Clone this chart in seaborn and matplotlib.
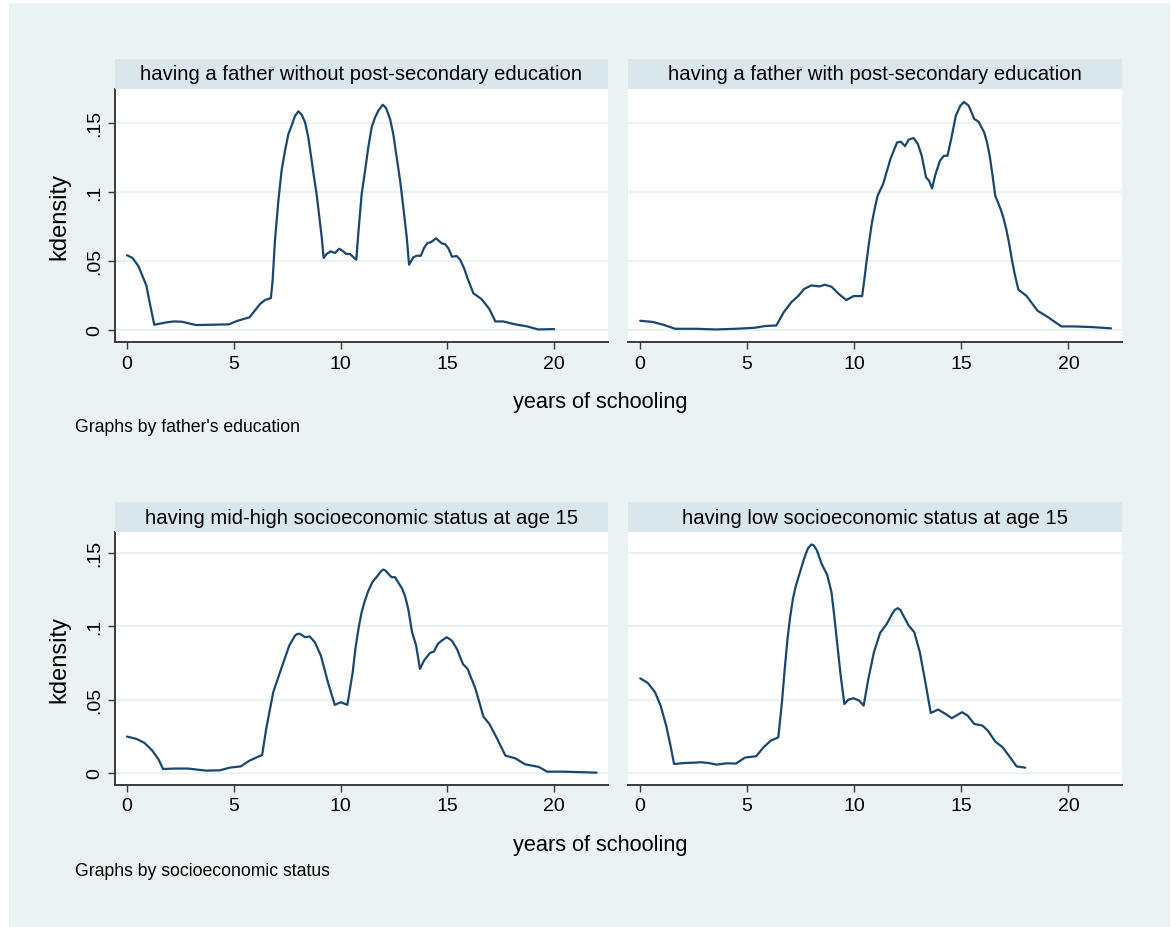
import matplotlib
matplotlib.use("Agg")
import matplotlib.pyplot as plt
from matplotlib.patches import Rectangle
import numpy as np
import pandas as pd
import seaborn as sns

# ---- kernel density estimates of years of schooling, by group ----
father_nopost_x = [0.0, 0.26, 0.54, 0.91, 1.1, 1.28, 1.84, 2.2, 2.58, 3.23, 3.88, 4.77, 5.18, 5.74,
                   6.23, 6.46, 6.74, 6.82, 6.93, 7.09, 7.24, 7.4, 7.56, 7.71, 7.87, 8.03, 8.18,
                   8.34, 8.49, 8.65, 8.76, 8.88, 9.01, 9.12, 9.21, 9.35, 9.54, 9.74, 9.94, 10.13,
                   10.26, 10.44, 10.74, 10.83, 10.99, 11.15, 11.3, 11.46, 11.62, 11.77, 11.98,
                   12.13, 12.32, 12.47, 12.63, 12.79, 12.94, 13.1, 13.21, 13.41, 13.57, 13.76,
                   13.91, 14.07, 14.22, 14.47, 14.74, 14.89, 15.05, 15.22, 15.44, 15.6, 15.78,
                   15.99, 16.22, 16.45, 16.6, 16.97, 17.25, 17.62, 18.18, 18.74, 19.26, 20.0]
father_nopost_y = [0.054, 0.052, 0.046, 0.032, 0.017, 0.0036, 0.0053, 0.006, 0.0058, 0.0034,
                   0.0036, 0.0039, 0.0065, 0.009, 0.0186, 0.0215, 0.023, 0.0355, 0.0645, 0.0935,
                   0.1152, 0.1297, 0.1418, 0.1478, 0.155, 0.1582, 0.1558, 0.1503, 0.1394, 0.1225,
                   0.1104, 0.0983, 0.0814, 0.067, 0.052, 0.0549, 0.0568, 0.0556, 0.0587, 0.0568,
                   0.0549, 0.0549, 0.0507, 0.0693, 0.0983, 0.1152, 0.1322, 0.1467, 0.1539, 0.1587,
                   0.163, 0.1607, 0.1527, 0.1418, 0.1249, 0.108, 0.0887, 0.067, 0.0471, 0.0525,
                   0.0536, 0.0536, 0.0592, 0.0628, 0.0633, 0.0662, 0.0626, 0.0621, 0.059, 0.0529,
                   0.0534, 0.0507, 0.0447, 0.0355, 0.0264, 0.0239, 0.0222, 0.015, 0.006, 0.006,
                   0.0039, 0.0024, 0.0002, 0.0005]

father_post_x = [0.03, 0.63, 1.15, 1.66, 2.61, 3.55, 4.49, 5.35, 5.87, 6.38, 6.72, 7.07, 7.41, 7.67,
                 8.01, 8.39, 8.64, 8.95, 9.3, 9.64, 9.98, 10.38, 10.48, 10.58, 10.7, 10.84, 10.97,
                 11.1, 11.36, 11.7, 12.01, 12.18, 12.38, 12.55, 12.78, 12.98, 13.16, 13.36, 13.5,
                 13.64, 13.79, 14.01, 14.19, 14.36, 14.53, 14.75, 14.96, 15.13, 15.35, 15.61,
                 15.81, 16.07, 16.2, 16.33, 16.46, 16.59, 16.72, 16.84, 16.97, 17.1, 17.23, 17.36,
                 17.5, 17.67, 18.04, 18.56, 19.07, 19.67, 20.27, 21.13, 21.99]
father_post_y = [0.0065, 0.0056, 0.0034, 0.0007, 0.0007, 0.0002, 0.0007, 0.0014, 0.0027, 0.0031,
                 0.0126, 0.0198, 0.0246, 0.0295, 0.0321, 0.0314, 0.0326, 0.0312, 0.0258, 0.0215,
                 0.0244, 0.0244, 0.036, 0.0488, 0.063, 0.0778, 0.088, 0.097, 0.1056, 0.1237,
                 0.1357, 0.1362, 0.133, 0.1377, 0.1389, 0.1345, 0.126, 0.1104, 0.108, 0.1024,
                 0.112, 0.1225, 0.126, 0.126, 0.138, 0.155, 0.1623, 0.165, 0.1623, 0.1527, 0.1507,
                 0.143, 0.136, 0.126, 0.112, 0.097, 0.092, 0.0874, 0.081, 0.073, 0.063, 0.0512,
                 0.04, 0.029, 0.0246, 0.0138, 0.0089, 0.0024, 0.0024, 0.0019, 0.001]

ses_midhigh_x = [0.0, 0.45, 0.82, 1.19, 1.47, 1.69, 2.21, 2.86, 3.7, 4.35, 4.81, 5.33, 5.74, 6.33,
                 6.52, 6.85, 7.22, 7.6, 7.87, 7.98, 8.1, 8.34, 8.56, 8.8, 9.08, 9.41, 9.73, 10.01,
                 10.32, 10.57, 10.7, 10.84, 10.98, 11.12, 11.3, 11.49, 11.77, 11.9, 12.0, 12.1,
                 12.24, 12.39, 12.55, 12.89, 13.03, 13.17, 13.35, 13.54, 13.72, 13.91, 14.19, 14.37,
                 14.56, 14.74, 14.97, 15.21, 15.45, 15.73, 15.95, 16.32, 16.69, 16.97, 17.34,
                 17.72, 18.18, 18.64, 19.29, 19.67, 20.41, 21.34, 21.99]
ses_midhigh_y = [0.0248, 0.0232, 0.0205, 0.0152, 0.0095, 0.0027, 0.003, 0.003, 0.0016, 0.0018,
                 0.0036, 0.0045, 0.0084, 0.0123, 0.03, 0.055, 0.0709, 0.0868, 0.0936, 0.0948,
                 0.0948, 0.0925, 0.093, 0.089, 0.08, 0.0618, 0.0464, 0.0482, 0.0464, 0.0686,
                 0.085, 0.0982, 0.109, 0.1164, 0.124, 0.13, 0.135, 0.1375, 0.1386, 0.138, 0.1357,
                 0.1334, 0.1334, 0.1255, 0.12, 0.1118, 0.0959, 0.0868, 0.0709, 0.0766, 0.0818,
                 0.0827, 0.088, 0.0902, 0.0925, 0.0902, 0.0845, 0.0743, 0.0709, 0.0573, 0.0384,
                 0.0334, 0.0232, 0.0118, 0.01, 0.0059, 0.0041, 0.0009, 0.0009, 0.0005, 0.0002]

ses_low_x = [0.03, 0.38, 0.72, 0.98, 1.24, 1.41, 1.61, 2.09, 2.52, 2.86, 3.21, 3.6, 4.07, 4.49,
             4.92, 5.44, 5.78, 6.12, 6.47, 6.64, 6.77, 6.9, 7.02, 7.15, 7.28, 7.41, 7.67, 7.85,
             8.01, 8.13, 8.27, 8.49, 8.75, 8.95, 9.08, 9.21, 9.38, 9.55, 9.75, 9.98, 10.24,
             10.45, 10.67, 10.93, 11.22, 11.53, 11.78, 11.9, 12.04, 12.17, 12.3, 12.55, 12.81,
             13.07, 13.33, 13.58, 13.93, 14.27, 14.56, 15.04, 15.3, 15.61, 15.99, 16.24, 16.59,
             16.93, 17.28, 17.58, 17.99]
ses_low_y = [0.0645, 0.0614, 0.055, 0.0459, 0.0323, 0.0209, 0.0061, 0.0068, 0.007, 0.0073, 0.0068,
             0.0057, 0.0066, 0.0064, 0.0105, 0.0114, 0.0175, 0.022, 0.0243, 0.0482, 0.071,
             0.0914, 0.106, 0.1186, 0.127, 0.1334, 0.1459, 0.153, 0.1557, 0.155, 0.1516, 0.1425,
             0.135, 0.1232, 0.107, 0.0891, 0.0664, 0.047, 0.05, 0.0509, 0.0493, 0.0459, 0.0641,
             0.0823, 0.0955, 0.1016, 0.1084, 0.111, 0.1123, 0.111, 0.1073, 0.1005, 0.0959,
             0.0823, 0.0618, 0.0409, 0.0432, 0.0402, 0.0373, 0.0414, 0.0391, 0.0334, 0.0323,
             0.0289, 0.0214, 0.0175, 0.0107, 0.0045, 0.0036]

panel_titles = ["having a father without post-secondary education",
                "having a father with post-secondary education",
                "having mid-high socioeconomic status at age 15",
                "having low socioeconomic status at age 15"]
x_ticks = [0, 5, 10, 15, 20]
y_ticks = [0, 0.05, 0.1, 0.15]
y_tick_labels = ["0", ".05", ".1", ".15"]
x_title = "years of schooling"
y_title = "kdensity"
notes = ["Graphs by father's education", "Graphs by socioeconomic status"]

# ---- styling ----
sns.set_theme(style="white")
plt.rcParams["font.family"] = ["Liberation Sans", "DejaVu Sans"]

BG = "#EAF2F3"
STRIP = "#D9E6EB"
LINE = "#1A476F"
AXIS = "#3A3A3A"

W, H = 1173, 928
fig = plt.figure(figsize=(W / 100, H / 100), dpi=100)
fig.patch.set_facecolor("white")


def fbox(x0, y0, x1, y1):
    """Pixel box (top-left origin) -> figure fraction [left, bottom, width, height]."""
    return [x0 / W, 1 - y1 / H, (x1 - x0) / W, (y1 - y0) / H]


fig.add_artist(Rectangle((9 / W, 0), (1170 - 9) / W, (H - 4) / H,
                         transform=fig.transFigure, facecolor=BG, edgecolor="none", zorder=-5))

series = [(father_nopost_x, father_nopost_y), (father_post_x, father_post_y),
          (ses_midhigh_x, ses_midhigh_y), (ses_low_x, ses_low_y)]

cols = [(115.4, 607.5), (628.0, 1122.0)]
rows = [dict(strip=(60, 90), plot=(90, 343.3), ylim=(-0.0091, 0.1744), xt=403, note=428),
        dict(strip=(503.3, 532.7), plot=(532.7, 786.0), ylim=(-0.0082, 0.1644), xt=846, note=872)]

for i, (xs, ys) in enumerate(series):
    r, c = divmod(i, 2)
    row = rows[r]
    x0, x1 = cols[c]
    ax = fig.add_axes(fbox(x0, row["plot"][0], x1, row["plot"][1]))
    ax.set_facecolor("white")
    df = pd.DataFrame({"years": xs, "density": ys})
    sns.lineplot(data=df, x="years", y="density", ax=ax, color=LINE, linewidth=1.6,
                 estimator=None, sort=True)
    ax.set_xlim(-0.54, 22.5)
    ax.set_ylim(*row["ylim"])
    ax.set_xticks(x_ticks)
    ax.set_xticklabels([str(t) for t in x_ticks])
    ax.set_yticks(y_ticks)
    ax.set_xlabel("")
    ax.set_ylabel("")
    for yv in y_ticks:
        ax.axhline(yv, color=BG, linewidth=1.6, zorder=0.5)
    for s in ["top", "right"]:
        ax.spines[s].set_visible(False)
    ax.spines["bottom"].set_color(AXIS)
    ax.spines["bottom"].set_linewidth(1.4)
    ax.tick_params(axis="x", direction="out", length=5, width=1, color=AXIS,
                   labelsize=14, pad=4, labelcolor="black", bottom=True)
    if c == 0:
        ax.spines["left"].set_color(AXIS)
        ax.spines["left"].set_linewidth(1.4)
        ax.set_yticklabels(y_tick_labels, rotation=90, va="center")
        ax.tick_params(axis="y", direction="out", length=5, width=1, color=AXIS,
                       labelsize=14, pad=4, labelcolor="black", left=True)
    else:
        ax.spines["left"].set_visible(False)
        ax.tick_params(axis="y", left=False, labelleft=False)

    # title strip above each panel
    s0, s1 = row["strip"]
    fig.add_artist(Rectangle((x0 / W, 1 - s1 / H), (x1 - x0) / W, (s1 - s0) / H,
                             transform=fig.transFigure, facecolor=STRIP, edgecolor="none"))
    fig.text((x0 + x1) / 2 / W, 1 - (s0 + s1) / 2 / H, panel_titles[i],
             ha="center", va="center", fontsize=14.6, color="black")

for row, note in zip(rows, notes):
    pc = (row["plot"][0] + row["plot"][1]) / 2
    fig.text(59 / W, 1 - pc / H, y_title, rotation=90, ha="center", va="center",
             fontsize=17, color="black")
    fig.text(600 / W, 1 - row["xt"] / H, x_title, ha="center", va="center",
             fontsize=15.7, color="black")
    fig.text(75 / W, 1 - row["note"] / H, note, ha="left", va="center",
             fontsize=12.7, color="black")

fig.savefig("out.png", dpi=100, facecolor=fig.get_facecolor())
